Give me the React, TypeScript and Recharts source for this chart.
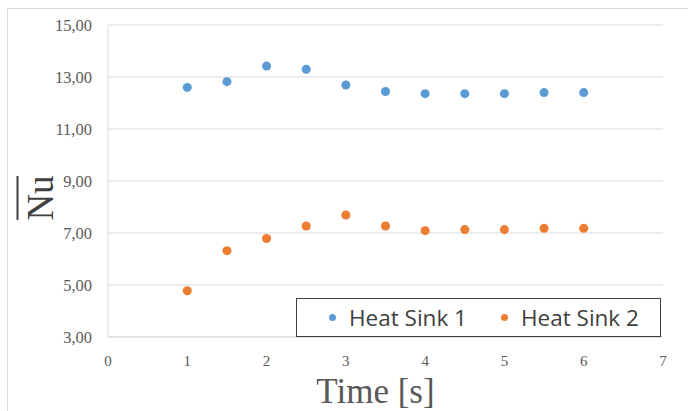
import { ScatterChart, Scatter, XAxis, YAxis, CartesianGrid, Legend } from 'recharts'

const times = [1, 1.5, 2, 2.5, 3, 3.5, 4, 4.5, 5, 5.5, 6]
const heatSink1 = [12.6, 12.82, 13.42, 13.3, 12.69, 12.44, 12.36, 12.36, 12.36, 12.4, 12.4]
const heatSink2 = [4.78, 6.32, 6.79, 7.27, 7.69, 7.27, 7.09, 7.13, 7.13, 7.18, 7.18]
const xTicks = [0, 1, 2, 3, 4, 5, 6, 7]
const yTicks = [3, 5, 7, 9, 11, 13, 15]

const BLUE = '#5b9bd5'
const ORANGE = '#ed7d31'
const GRID = '#d9d9d9'
const SERIF = '"Liberation Serif", "Times New Roman", serif'

const series1 = times.map((t, i) => ({ t, v: heatSink1[i] }))
const series2 = times.map((t, i) => ({ t, v: heatSink2[i] }))

function LegendBox({ payload }: any) {
  return (
    <div
      style={{
        boxSizing: 'border-box',
        width: 365,
        height: 39,
        border: '1.5px solid #404040',
        background: '#fff',
        display: 'flex',
        alignItems: 'center',
        paddingLeft: 32,
        fontFamily: '"Open Sans", sans-serif',
        fontSize: 22.5,
        color: '#404040',
        whiteSpace: 'nowrap',
      }}
    >
      {(payload || []).map((p: any) => (
        <div key={p.value} style={{ display: 'flex', alignItems: 'center', marginRight: 34, flexShrink: 0 }}>
          <span style={{ width: 7, height: 7, borderRadius: '50%', background: p.color, marginRight: 13 }} />
          <span>{p.value}</span>
        </div>
      ))}
    </div>
  )
}

function NuLabel({ viewBox }: any) {
  const cx = viewBox.x + 53
  const cy = viewBox.y + viewBox.height / 2 + 17
  return (
    <g transform={`translate(${cx},${cy}) rotate(-90)`}>
      <text x={0} y={0} textAnchor="middle" fontFamily={SERIF} fontSize={37} fill="#404040">Nu</text>
      <line x1={-22} x2={22} y1={-35.5} y2={-35.5} stroke="#404040" strokeWidth={2} />
    </g>
  )
}

function TimeLabel({ viewBox }: any) {
  return (
    <text x={viewBox.x + viewBox.width / 2 - 10} y={403} textAnchor="middle" fontFamily={SERIF} fontSize={35} fill="#595959">
      Time [s]
    </text>
  )
}

export default function App() {
  return (
    <div style={{ position: 'absolute', left: 0, top: 0, width: 688, height: 411, overflow: 'hidden', background: '#fff' }}>
      <div style={{ position: 'absolute', left: 7, top: 8, width: 720, height: 440, border: '1px solid #d9d9d9' }} />
      <div style={{ position: 'absolute', left: 0, top: 0 }}>
        <ScatterChart width={688} height={411} margin={{ top: 25, right: 25, bottom: 0, left: 0 }}>
          <CartesianGrid vertical={false} stroke={GRID} />
          <XAxis
            type="number"
            dataKey="t"
            domain={[0, 7]}
            ticks={xTicks}
            height={74}
            axisLine={{ stroke: GRID }}
            tickLine={false}
            tickMargin={12}
            tick={{ fontFamily: SERIF, fontSize: 15, fill: '#595959' }}
            label={<TimeLabel />}
          />
          <YAxis
            type="number"
            dataKey="v"
            domain={[3, 15]}
            ticks={yTicks}
            width={108}
            axisLine={{ stroke: GRID }}
            tickLine={false}
            tickMargin={10}
            tick={{ fontFamily: SERIF, fontSize: 16.5, fill: '#595959' }}
            tickFormatter={(v: number) => v.toFixed(2).replace('.', ',')}
            label={<NuLabel />}
          />
          <Legend
            layout="horizontal"
            verticalAlign="middle"
            align="center"
            wrapperStyle={{ position: 'absolute', left: 296, top: 298, width: 365, height: 39 }}
            content={<LegendBox />}
          />
          <Scatter name="Heat Sink 1" data={series1} fill={BLUE} isAnimationActive={false} />
          <Scatter name="Heat Sink 2" data={series2} fill={ORANGE} isAnimationActive={false} />
        </ScatterChart>
      </div>
    </div>
  )
}
